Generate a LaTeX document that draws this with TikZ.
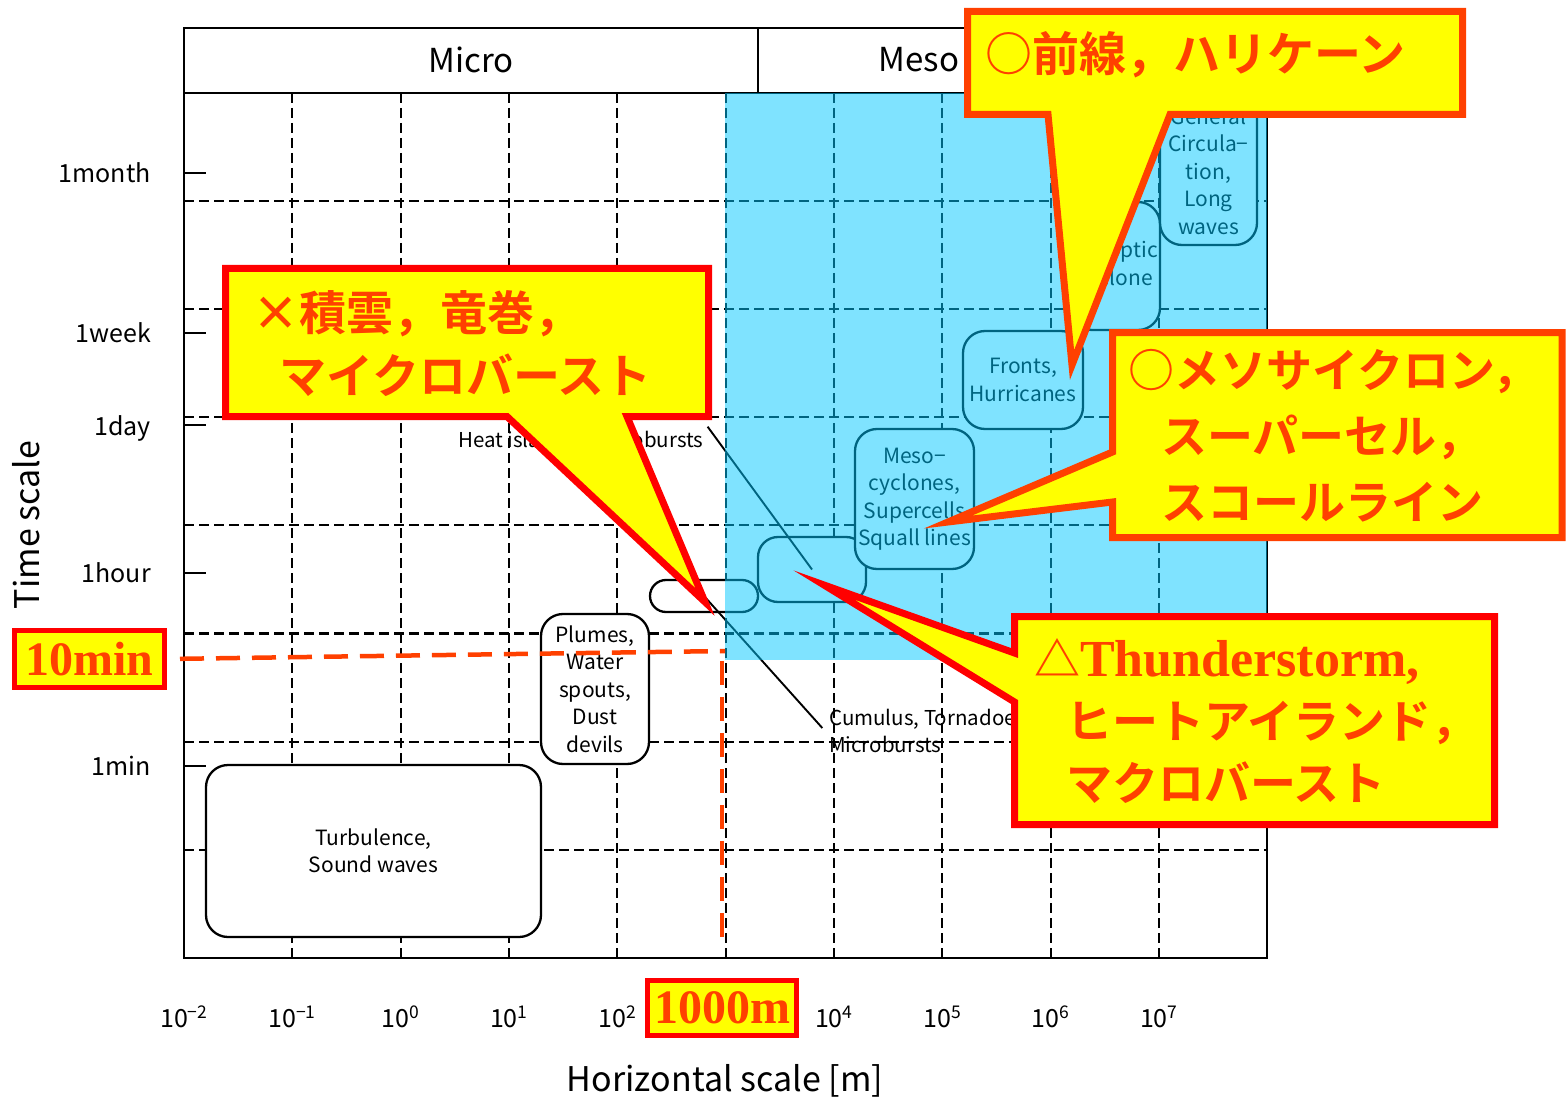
\documentclass[tikz,border=0pt]{standalone}
\usepackage{fontspec}
\setmainfont{Liberation Serif}
\newfontfamily\lbl{Noto Sans CJK JP}
\newfontfamily\jp{Noto Sans CJK JP}[BoldFont={Noto Sans CJK JP Bold}]
\newfontfamily\tnr{Liberation Serif}
\usetikzlibrary{positioning}
\definecolor{hiyellow}{RGB}{255,255,0}
\definecolor{hired}{RGB}{255,0,0}
\definecolor{hiorange}{RGB}{255,64,0}
\definecolor{mesocyan}{RGB}{0,200,255}
\tikzset{
  gridln/.style={line width=2.1pt, dash pattern=on 10pt off 5pt},
  frameln/.style={line width=2.4pt},
  linkln/.style={line width=1.9pt},
  scalebox/.style={draw, line width=2.3pt, fill=white, rounded corners=22pt,
    inner sep=2pt, align=center, font=\lbl\fontsize{21}{27.5}\selectfont},
  boxlbl/.style={font=\lbl\fontsize{20.5}{27.5}\selectfont, inner sep=4pt},
  ticklbl/.style={font=\lbl\fontsize{25}{30}\selectfont, anchor=east, inner sep=0pt},
  hdrlbl/.style={font=\lbl\fontsize{33}{40}\selectfont},
  axlbl/.style={font=\lbl\fontsize{34}{40}\selectfont},
  reddash/.style={draw=hiorange, line width=4.5pt, dash pattern=on 24pt off 12pt},
  markbox/.style={draw=hired, fill=hiyellow, line width=5pt, inner sep=0pt,
    text=hiorange, font=\tnr\bfseries\fontsize{48}{56}\selectfont},
  calloutor/.style={fill=hiyellow, draw=hiorange, line width=7pt},
  calloutrd/.style={fill=hiyellow, draw=hired, line width=7pt},
  calltxt/.style={text=hiorange, anchor=west, align=left, inner sep=0pt,
    font=\jp\bfseries\fontsize{47}{63}\selectfont},
}

\begin{document}
\begin{tikzpicture}[x=1pt,y=-1pt]
  \useasboundingbox (0,0) rectangle (1566,1099);
  % dashed grid
  \foreach \i in {1,...,9}
    \draw[gridln] ({184+108.33*\i},93) -- ({184+108.33*\i},958);
  \foreach \j in {1,...,7}
    \draw[gridln] (184,{93+108.1*\j}) -- (1267,{93+108.1*\j});
  % frame and header
  \draw[frameln] (184,28) rectangle (1267,958);
  \draw[frameln] (184,93) -- (1267,93);
  \draw[frameln] (758,28) -- (758,93);
  \node[hdrlbl] (micro) at (471,60) {Micro};
  \node[hdrlbl] (meso) at (919,60) {Meso};
  % time axis
  \foreach \ty/\tl/\ly in {173/1month/173,333/1week/333,425/1day/428,573/1hour/573,766/1min/766}{
    \draw[frameln] (184,\ty) -- (206,\ty);
    \node[ticklbl] (y\tl) at (151,\ly) {\tl};
  }
  \node[axlbl, rotate=90] (tscale) at (26,525) {Time scale};
  % length axis
  \foreach \k/\e in {0/−2,1/−1,2/0,3/1,4/2,6/4,7/5,8/6,9/7}
    \node[ticklbl, anchor=center] (x\k) at ({184+108.33*\k},1017) {10\textsuperscript{\e}};
  \node[axlbl] (hscale) at (725,1081) {Horizontal scale [m]};
  % phenomena
  \node[scalebox, minimum width=335pt, minimum height=172pt] (turb) at (373.5,851) {Turbulence,\\Sound waves};
  \node[scalebox, minimum width=108pt, minimum height=150pt] (plume) at (595,689) {Plumes,\\Water\\spouts,\\Dust\\devils};
  \node[scalebox, rounded corners=16pt, minimum width=108pt, minimum height=32pt] (pill) at (704,596) {};
  \node[scalebox, rounded corners=20pt, minimum width=108pt, minimum height=65pt] (tstorm) at (812,569.5) {};
  \node[scalebox, minimum width=119pt, minimum height=140pt] (mcyc) at (914.5,499) {Meso−\\cyclones,\\Supercells\\Squall lines};
  \node[scalebox, minimum width=120pt, minimum height=98pt] (front) at (1023,380) {Fronts,\\Hurricanes};
  \node[scalebox, minimum width=86pt, minimum height=128pt] (synop) at (1115,266) {Synoptic\\cyclone};
  \node[scalebox, minimum width=97pt, minimum height=148pt] (genc) at (1208.5,171) {General\\Circula−\\tion,\\Long\\waves};
  \node[boxlbl, anchor=west] (heat) at (454,441) {Heat islands, Macrobursts};
  \node[boxlbl, anchor=west, align=left] (cumu) at (825,731) {Cumulus, Tornadoes,\\Microbursts};
  \draw[linkln] (heat.north east) -- (tstorm.center);
  \draw[linkln, shorten <=4pt] (cumu.west) -- (pill.center);
  % mesoscale shading
  \fill[mesocyan, opacity=0.5] (725,93) rectangle (1267,660);
  % 10 min / 1000 m marks
  \node[markbox, minimum width=150pt, minimum height=57pt] (tenmin) at (89.5,659) {10min};
  \node[markbox, minimum width=149pt, minimum height=55pt] (onekm) at (722,1008) {1000m};
  \coordinate (c10) at (725,651);
  \coordinate (c1k) at (722,661);
  \draw[reddash, shorten <=13pt] (tenmin.east) -- (c10);
  \draw[reddash, shorten >=30pt] (c1k) -- (onekm.north);
  % callouts
  \draw[calloutor] (967.5,11.5) -- (1462.5,11.5) -- (1462.5,114.5) -- (1170,114.5)
    -- (1072,365) -- (1048,114.5) -- (967.5,114.5) -- cycle;
  \node[calltxt] (capfront) at (985,55) {○前線，ハリケーン};
  \draw[calloutrd] (225.5,268.5) -- (708.5,268.5) -- (708.5,416.5) -- (627,416.5)
    -- (705,602) -- (507,416.5) -- (225.5,416.5) -- cycle;
  \node[calltxt] (capcumu) at (252,344) {×積雲，竜巻，\\\hspace*{27pt}マイクロバースト};
  \draw[calloutor] (1112.5,332.5) -- (1562,332.5) -- (1562,537.5) -- (1112.5,537.5)
    -- (1112.5,502) -- (948,522) -- (1112.5,452) -- cycle;
  \node[calltxt, font=\jp\bfseries\fontsize{46}{66}\selectfont] (capmeso) at (1128,436)
    {○メソサイクロン，\\\hspace*{33pt}スーパーセル，\\\hspace*{33pt}スコールライン};
  \draw[calloutrd] (1014.5,616.5) -- (1494.5,616.5) -- (1494.5,824.5) -- (1014.5,824.5)
    -- (1014.5,702) -- (824,585) -- (1014.5,653) -- cycle;
  \node[calltxt, font=\jp\bfseries\fontsize{46}{62}\selectfont] (capstorm) at (1034,721)
    {△{\tnr\bfseries\fontsize{52}{62}\selectfont Thunderstorm,}\\\hspace*{32pt}ヒートアイランド，\\\hspace*{32pt}マクロバースト};
\end{tikzpicture}
\end{document}
